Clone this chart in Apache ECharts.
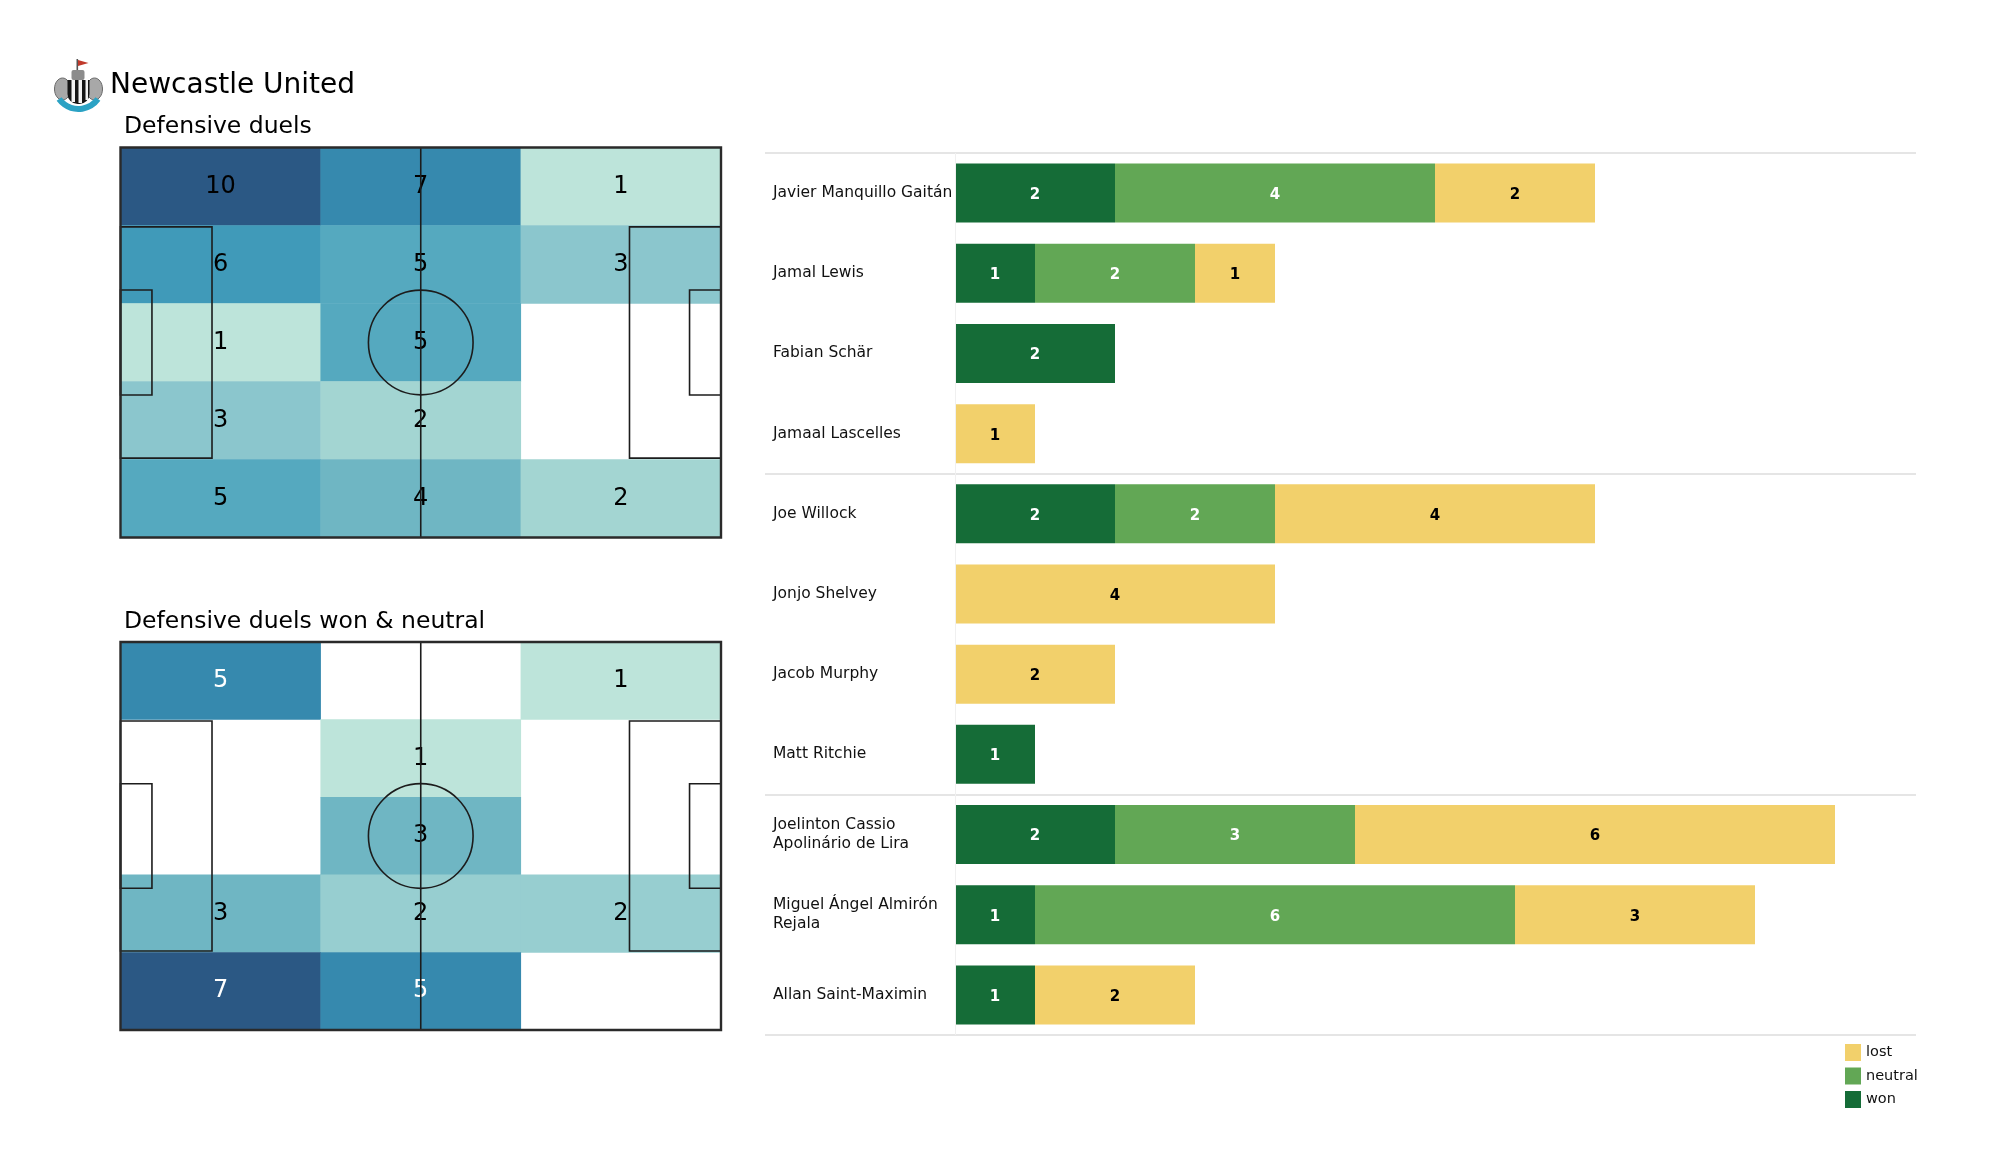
<!DOCTYPE html>
<html>
<head>
<meta charset="utf-8">
<script src="https://cdn.jsdelivr.net/npm/echarts@6/dist/echarts.min.js"></script>
<style>
html,body{margin:0;padding:0;background:#ffffff;}
#chart{width:2000px;height:1175px;}
</style>
</head>
<body>
<div id="chart"></div>
<script>
// ---------- data ----------
const zoneCols = ['left', 'centre', 'right'];
const zoneRows = ['r1', 'r2', 'r3', 'r4', 'r5'];
// rows top -> bottom, columns left -> right
const duelsAll = [
  [10, 7, 1],
  [6, 5, 3],
  [1, 5, 0],
  [3, 2, 0],
  [5, 4, 2]
];
const duelsWonNeutral = [
  [5, 0, 1],
  [0, 1, 0],
  [0, 3, 0],
  [3, 2, 2],
  [7, 5, 0]
];
const players = [
  'Javier Manquillo Gaitán',
  'Jamal Lewis',
  'Fabian Schär',
  'Jamaal Lascelles',
  'Joe Willock',
  'Jonjo Shelvey',
  'Jacob Murphy',
  'Matt Ritchie',
  'Joelinton Cassio\nApolinário de Lira',
  'Miguel Ángel Almirón\nRejala',
  'Allan Saint-Maximin'
];
const won     = [2, 1, 2, 0, 2, 0, 0, 1, 2, 1, 1];
const neutral = [4, 2, 0, 0, 2, 0, 0, 0, 3, 6, 0];
const lost    = [2, 1, 0, 1, 4, 4, 2, 0, 6, 3, 2];
const groupBreaks = [0, 4, 8, 11];

// ---------- style ----------
const FONT = 'DejaVu Sans';
const heatColors = ['#bde4da', '#a3d5d2', '#8bc6cd', '#6fb6c3', '#55a9bf',
                    '#409ab9', '#3689ae', '#327aa2', '#2f6a94', '#2b5884'];
const C_WON = '#156c37', C_NEU = '#62a755', C_LOST = '#f2d06b';
const X_MIN = -2.375, X_MAX = 12.0125;

function heatData(matrix, lightThreshold) {
  const vals = matrix.flat().filter(v => v > 0);
  const mn = Math.min(...vals), mx = Math.max(...vals);
  const out = [];
  matrix.forEach((row, r) => row.forEach((v, c) => {
    if (v > 0) {
      const t = mx > mn ? (v - mn) / (mx - mn) : 0;
      out.push({ value: [c, r, v], label: { color: t > lightThreshold ? '#ffffff' : '#000000' } });
    }
  }));
  return { data: out, min: mn, max: mx };
}
const h1 = heatData(duelsAll, 99);
const h2 = heatData(duelsWonNeutral, 0.5);

function pitchRender(params, api) {
  const p = (x, y) => api.coord([x, y]);
  const st = { stroke: '#1c1c1c', lineWidth: 1.6, fill: null };
  const rect = (x1, y1, x2, y2, s) => {
    const a = p(x1, y1), b = p(x2, y2);
    return { type: 'rect', shape: { x: Math.min(a[0], b[0]), y: Math.min(a[1], b[1]),
      width: Math.abs(b[0] - a[0]), height: Math.abs(b[1] - a[1]) }, style: s || st };
  };
  const c = p(52.5, 34);
  const r = api.size([9.15, 0])[0];
  const top = p(52.5, 0), bot = p(52.5, 68);
  return {
    type: 'group',
    children: [
      rect(0, 13.84, 16, 54.16),
      rect(89, 13.84, 105, 54.16),
      rect(0, 24.84, 5.5, 43.16),
      rect(99.5, 24.84, 105, 43.16),
      { type: 'line', shape: { x1: top[0], y1: top[1], x2: bot[0], y2: bot[1] }, style: st },
      { type: 'circle', shape: { cx: c[0], cy: c[1], r: r }, style: st },
      rect(0, 0, 105, 68, { stroke: '#2a2a2a', lineWidth: 2.4, fill: null })
    ]
  };
}

const heatLabel = { show: true, fontFamily: FONT, fontSize: 24, formatter: p => p.value[2] };

const barLabel = (color) => ({
  show: true, position: 'inside', color: color, fontFamily: FONT, offset: [0, 2],
  fontWeight: 'bold', fontSize: 15, formatter: p => (p.value ? p.value : '')
});

const sepLines = groupBreaks.map(b => [{ coord: [X_MIN, b] }, { coord: [X_MAX, b] }]);

const chart = echarts.init(document.getElementById('chart'), null, { renderer: 'canvas' });
const option = {
  backgroundColor: '#ffffff',
  animation: false,
  textStyle: { fontFamily: FONT },
  grid: [
    { left: 120.5, top: 147.5, width: 600.5, height: 390 },
    { left: 120.5, top: 147.5, width: 600.5, height: 390 },
    { left: 120.5, top: 642, width: 600.5, height: 388 },
    { left: 120.5, top: 642, width: 600.5, height: 388 },
    { left: 765, top: 153, width: 1151, height: 882 }
  ],
  xAxis: [
    { gridIndex: 0, type: 'category', data: zoneCols, show: false },
    { gridIndex: 1, type: 'value', min: 0, max: 105, show: false },
    { gridIndex: 2, type: 'category', data: zoneCols, show: false },
    { gridIndex: 3, type: 'value', min: 0, max: 105, show: false },
    { gridIndex: 4, type: 'value', min: X_MIN, max: X_MAX, show: false }
  ],
  yAxis: [
    { gridIndex: 0, type: 'category', data: zoneRows, inverse: true, show: false },
    { gridIndex: 1, type: 'value', min: 0, max: 68, inverse: true, show: false },
    { gridIndex: 2, type: 'category', data: zoneRows, inverse: true, show: false },
    { gridIndex: 3, type: 'value', min: 0, max: 68, inverse: true, show: false },
    { gridIndex: 4, type: 'category', data: players, inverse: true,
      axisLine: { show: false, onZero: false }, axisTick: { show: false }, splitLine: { show: false },
      axisLabel: { inside: true, margin: 8, color: '#111111', fontFamily: FONT, fontSize: 15.5,
                   lineHeight: 19, align: 'left', padding: [4, 0, 0, 0] } },
    { gridIndex: 4, type: 'value', min: 0, max: 11, inverse: true, show: false }
  ],
  visualMap: [
    { type: 'continuous', seriesIndex: 0, min: h1.min, max: h1.max, show: false,
      inRange: { color: heatColors } },
    { type: 'continuous', seriesIndex: 2, min: h2.min, max: h2.max, show: false,
      inRange: { color: heatColors } }
  ],
  legend: {
    orient: 'vertical', left: 1840, top: 1039, itemWidth: 16, itemHeight: 17, itemGap: 6.5,
    icon: 'rect', data: ['lost', 'neutral', 'won'],
    textStyle: { fontFamily: FONT, fontSize: 14.5, color: '#111111' }
  },
  graphic: [
    { type: 'text', left: 110, top: 72, style: { text: 'Newcastle United', font: '28px "DejaVu Sans"', fill: '#000000' } },
    { type: 'text', left: 124, top: 115, style: { text: 'Defensive duels', font: '23.5px "DejaVu Sans"', fill: '#000000' } },
    { type: 'text', left: 124, top: 610, style: { text: 'Defensive duels won & neutral', font: '23.5px "DejaVu Sans"', fill: '#000000' } },
    { type: 'group', left: 54, top: 59, children: [
      { type: 'rect', shape: { x: 24, y: 0, width: 1.6, height: 16 }, style: { fill: '#555' } },
      { type: 'polygon', shape: { points: [[25.5, 1], [36, 4], [25.5, 7]] }, style: { fill: '#c0392b' } },
      { type: 'rect', shape: { x: 19, y: 11, width: 13, height: 10, r: 2 }, style: { fill: '#8c8c8c' } },
      { type: 'ellipse', shape: { cx: 10, cy: 30, rx: 8, ry: 11 }, style: { fill: '#a8a8a8', stroke: '#6a6a6a', lineWidth: 1 } },
      { type: 'ellipse', shape: { cx: 42, cy: 30, rx: 8, ry: 11 }, style: { fill: '#a8a8a8', stroke: '#6a6a6a', lineWidth: 1 } },
      { type: 'rect', shape: { x: 15, y: 21, width: 22, height: 24, r: [0, 0, 10, 10] }, style: { fill: '#151515' } },
      { type: 'rect', shape: { x: 19, y: 21, width: 3.5, height: 22 }, style: { fill: '#f2f2f2' } },
      { type: 'rect', shape: { x: 26, y: 21, width: 3.5, height: 23 }, style: { fill: '#f2f2f2' } },
      { type: 'rect', shape: { x: 33, y: 21, width: 2.5, height: 20 }, style: { fill: '#f2f2f2' } },
      { type: 'arc', shape: { cx: 26, cy: 26, r: 24, startAngle: Math.PI * 0.2, endAngle: Math.PI * 0.8 },
        style: { stroke: '#2ba2c4', lineWidth: 6, fill: null } }
    ] }
  ],
  series: [
    { type: 'heatmap', xAxisIndex: 0, yAxisIndex: 0, data: h1.data, label: heatLabel,
      itemStyle: { borderWidth: 0 }, emphasis: { disabled: true }, z: 1 },
    { type: 'custom', xAxisIndex: 1, yAxisIndex: 1, data: [[0, 0]], renderItem: pitchRender,
      silent: true, clip: false, z: 3 },
    { type: 'heatmap', xAxisIndex: 2, yAxisIndex: 2, data: h2.data, label: heatLabel,
      itemStyle: { borderWidth: 0 }, emphasis: { disabled: true }, z: 1 },
    { type: 'custom', xAxisIndex: 3, yAxisIndex: 3, data: [[0, 0]], renderItem: pitchRender,
      silent: true, clip: false, z: 3 },
    { name: 'won', type: 'bar', stack: 'duels', xAxisIndex: 4, yAxisIndex: 4, data: won,
      barWidth: 59, itemStyle: { color: C_WON }, label: barLabel('#ffffff'), emphasis: { disabled: true } },
    { name: 'neutral', type: 'bar', stack: 'duels', xAxisIndex: 4, yAxisIndex: 4, data: neutral,
      barWidth: 59, itemStyle: { color: C_NEU }, label: barLabel('#ffffff'), emphasis: { disabled: true } },
    { name: 'lost', type: 'bar', stack: 'duels', xAxisIndex: 4, yAxisIndex: 4, data: lost,
      barWidth: 59, itemStyle: { color: C_LOST }, label: barLabel('#000000'), emphasis: { disabled: true } },
    { type: 'scatter', xAxisIndex: 4, yAxisIndex: 5, data: [[0, 0]], symbolSize: 0, silent: true,
      markLine: { silent: true, symbol: ['none', 'none'], label: { show: false },
        lineStyle: { color: '#dcdcdc', width: 1.5, type: 'solid' },
        data: sepLines.concat([[{ coord: [0, 0], lineStyle: { color: '#f0f0f0', width: 1 } }, { coord: [0, 11] }]]) } }
  ]
};
chart.setOption(option);
</script>
</body>
</html>
